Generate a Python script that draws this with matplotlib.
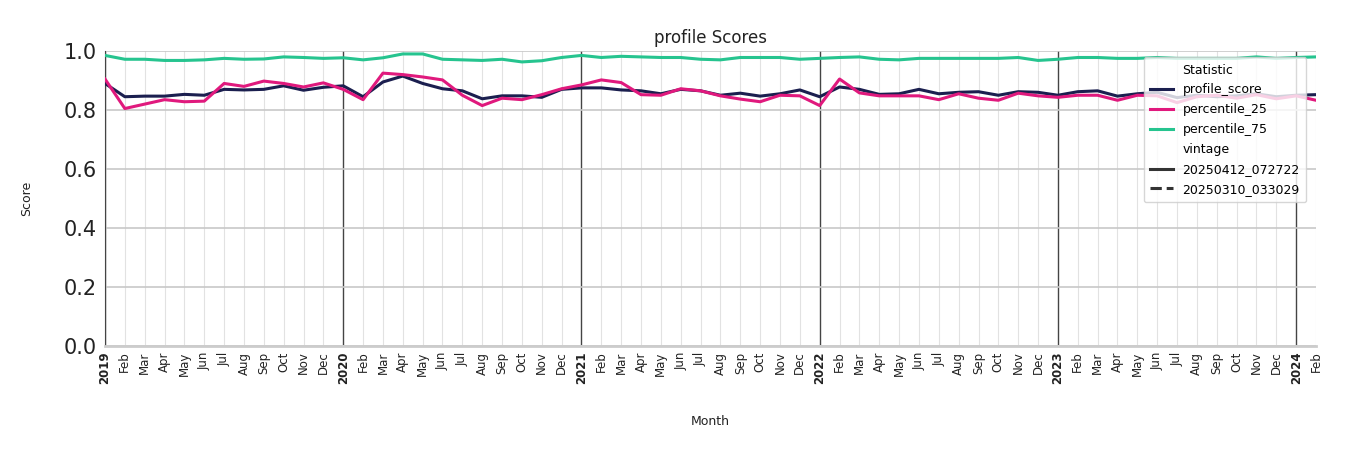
import matplotlib
matplotlib.use("Agg")
import matplotlib.pyplot as plt
import numpy as np
import pandas as pd
from matplotlib.lines import Line2D

months = pd.date_range("2019-01-01", "2024-02-01", freq="MS")
profile_score = [.89,.845,.847,.847,.853,.85,.87,.868,.87,.882,.867,.877,
                 .882,.845,.895,.915,.89,.872,.865,.838,.848,.848,.843,.87,
                 .875,.875,.868,.865,.855,.87,.865,.85,.857,.847,.855,.868,
                 .845,.878,.87,.853,.855,.87,.855,.86,.862,.85,.862,.86,
                 .85,.862,.865,.847,.855,.86,.842,.85,.845,.848,.855,.845,
                 .85,.852]
percentile_25 = [.905,.805,.82,.835,.828,.83,.89,.88,.898,.89,.878,.892,
                 .87,.835,.925,.92,.912,.902,.85,.815,.84,.835,.852,.872,
                 .885,.902,.893,.852,.85,.872,.865,.848,.837,.828,.85,.848,
                 .815,.905,.858,.848,.848,.848,.835,.855,.84,.833,.857,.848,
                 .843,.85,.85,.833,.85,.848,.825,.845,.85,.84,.852,.838,
                 .848,.833]
percentile_75 = [.985,.972,.972,.968,.968,.97,.975,.972,.973,.98,.978,.975,
                 .977,.97,.977,.99,.99,.972,.97,.968,.972,.963,.967,.978,
                 .985,.978,.982,.98,.978,.978,.972,.97,.978,.978,.978,.972,
                 .975,.978,.98,.972,.97,.975,.975,.975,.975,.975,.978,.968,
                 .972,.978,.978,.975,.975,.978,.975,.975,.975,.975,.98,.975,
                 .978,.98]
series = {"profile_score": (profile_score, "#1b1f4f"),
          "percentile_25": (percentile_25, "#e0197d"),
          "percentile_75": (percentile_75, "#26c48f")}

fig = plt.figure(figsize=(13.5, 4.5), dpi=100)
ax = fig.add_axes([105/1350, 1-346/450, 1211/1350, 295/450])
x = np.arange(len(months))
for name, (vals, c) in series.items():
    ax.plot(x, vals, color=c, lw=2.2, zorder=3)

ax.set_xlim(0, len(months)-1)
ax.set_ylim(0, 1.0)
ax.set_yticks(np.arange(0, 1.01, 0.2))
ax.set_yticklabels([f"{v:.1f}" for v in np.arange(0, 1.01, 0.2)], fontsize=15, color="#222222")
ax.tick_params(axis="y", length=0, pad=6)
ax.grid(axis="y", color="#c8c8c8", lw=1.2, zorder=0)
for i, m in enumerate(months):
    if m.month == 1:
        ax.axvline(i, color="#444444", lw=1, zorder=1)
    else:
        ax.axvline(i, color="#e2e2e2", lw=0.8, zorder=0)
labels = [str(m.year) if m.month == 1 else m.strftime("%b") for m in months]
ax.set_xticks(x)
ax.set_xticklabels(labels, rotation=90, fontsize=8.5, color="#222222")
for t, m in zip(ax.get_xticklabels(), months):
    if m.month == 1:
        t.set_fontweight("bold")
ax.tick_params(axis="x", length=0, pad=4)
for s in ["top", "right"]:
    ax.spines[s].set_visible(False)
ax.spines["left"].set_color("#444444")
ax.spines["bottom"].set_color("#cccccc")
ax.spines["bottom"].set_linewidth(2)
ax.set_title("profile Scores", fontsize=12, color="#222222")
ax.set_xlabel("Month", fontsize=9, color="#222222", labelpad=22)
ax.set_ylabel("Score", fontsize=9, color="#222222", labelpad=22)

handles = [Line2D([], [], color="none", label="Statistic")]
for name, (_, c) in series.items():
    handles.append(Line2D([], [], color=c, lw=2.2, label=name))
handles.append(Line2D([], [], color="none", label="vintage"))
handles.append(Line2D([], [], color="#333333", lw=2.2, label="20250412_072722"))
handles.append(Line2D([], [], color="#333333", lw=2.2, ls="--", label="20250310_033029"))
leg = ax.legend(handles=handles, loc="upper right", bbox_to_anchor=(0.997, 1.0),
                fontsize=9, frameon=True, framealpha=0.8, handlelength=1.8,
                borderpad=0.5, labelspacing=0.55)
leg.get_frame().set_edgecolor("#cccccc")
fig.savefig("out.png", dpi=100)
